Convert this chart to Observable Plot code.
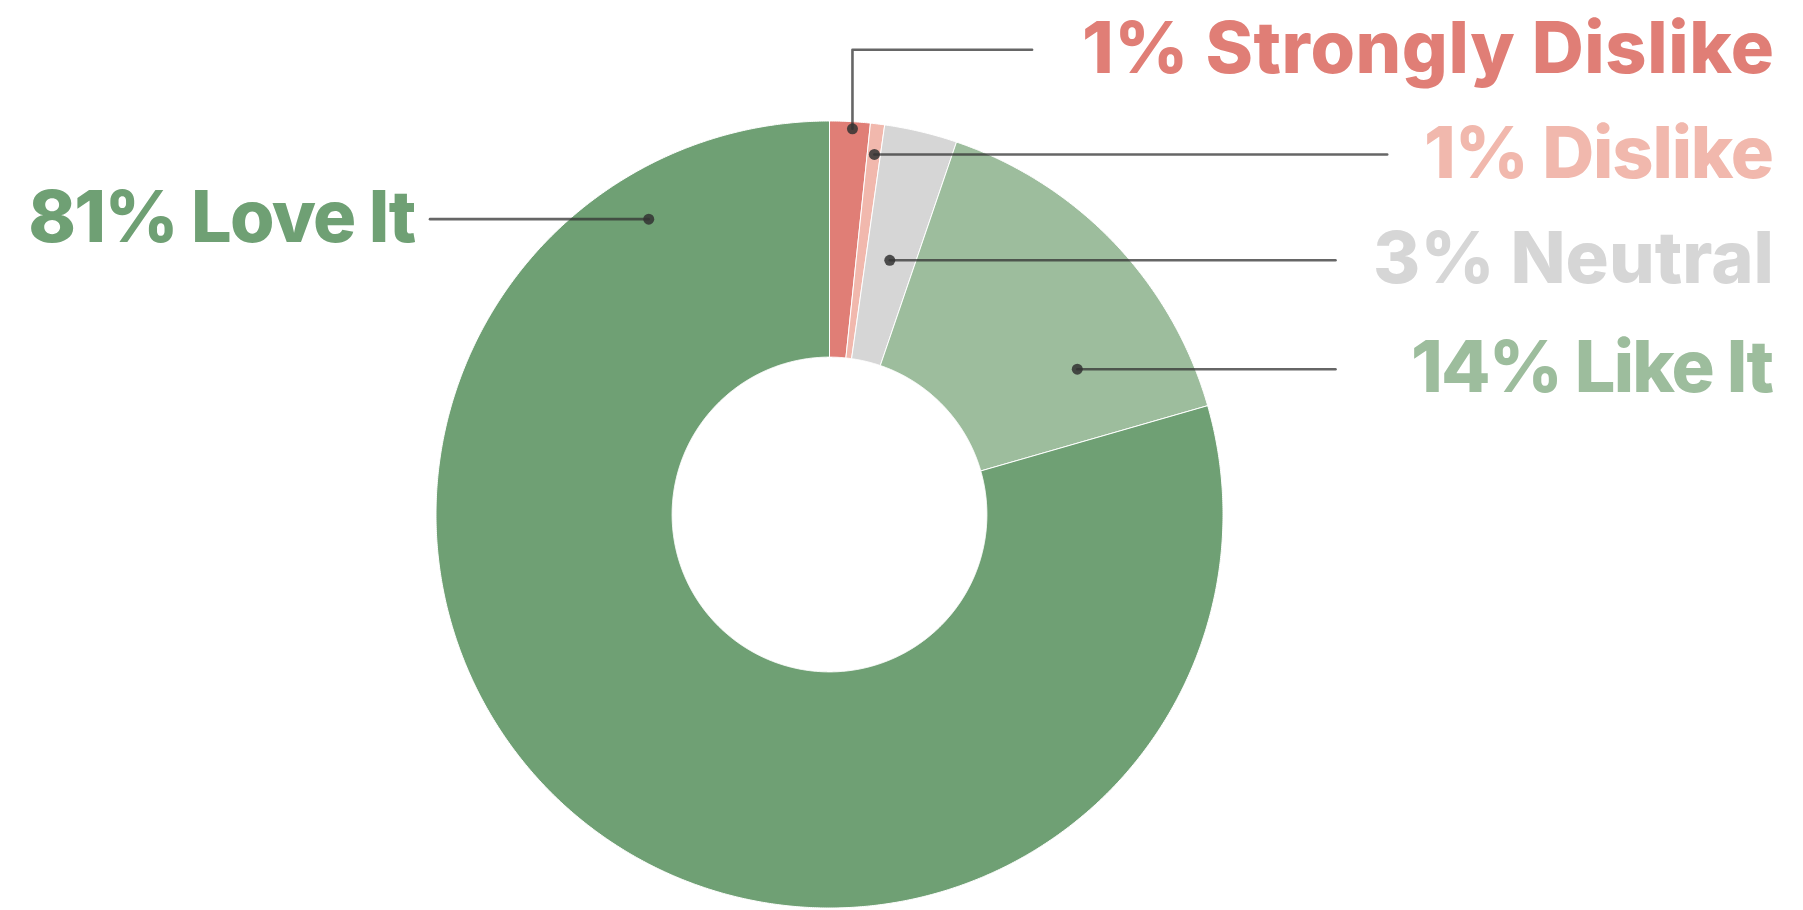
<!DOCTYPE html>
<html><head><meta charset="utf-8">
<script src="https://cdn.jsdelivr.net/npm/d3@7"></script>
<script src="https://cdn.jsdelivr.net/npm/@observablehq/plot@0.6"></script>
<style>html,body{margin:0;padding:0;background:#fff;overflow:hidden;}</style>
</head><body><div id="chart"></div>
<script>
// ---- data ----
const categories = ["Strongly Dislike", "Dislike", "Neutral", "Like It", "Love It"];
const shares = [1.66, 0.58, 2.99, 15.31, 79.46];          // slice sizes
const labelPercents = ["1%", "1%", "3%", "14%", "81%"];   // printed labels

// ---- styles / layout ----
const palette = ["#e07e76", "#f1b8ad", "#d6d6d6", "#9dbd9d", "#6fa074"];
const W = 1803, H = 910, CX = 829, CY = 514, R = 393.5, INNER = 0.4;
// annotation placement: angle fraction inside slice, radial fraction in ring,
// label row (px), leader end (px), label width (px)
const placement = {
  "Strongly Dislike": {t: 0.57, rf: 0.97, side: "right", lineEnd: 1031.6, row: 49.3, w: 692},
  "Dislike":          {t: 0.54, rf: 0.87, side: "right", lineEnd: 1386.7, w: 350},
  "Neutral":          {t: 0.49, rf: 0.44, side: "right", lineEnd: 1335, w: 401},
  "Like It":          {t: 0.74, rf: 0.55, side: "right", lineEnd: 1335, w: 363},
  "Love It":          {t: 0.89, rf: 0.80, side: "left",  lineEnd: 429.5, w: 388}
};
const rightTextX = 1773.5, leftTextX = 27.7;
const ux = px => (px - CX) / R;
const uy = py => (CY - py) / R;

const rows = categories.map((name, i) => ({name, share: shares[i], pct: labelPercents[i]}));
const arcs = d3.pie().sort(null).value(d => d.share)(rows);

// slice outlines
const slicePts = [];
for (const a of arcs) {
  const n = Math.max(2, Math.ceil((a.endAngle - a.startAngle) / 0.005));
  const pts = [];
  for (let k = 0; k <= n; k++) {
    const ang = a.startAngle + (a.endAngle - a.startAngle) * k / n;
    pts.push([Math.sin(ang), Math.cos(ang)]);
  }
  for (let k = n; k >= 0; k--) {
    const ang = a.startAngle + (a.endAngle - a.startAngle) * k / n;
    pts.push([INNER * Math.sin(ang), INNER * Math.cos(ang)]);
  }
  pts.push(pts[0]);
  for (const [x, y] of pts) slicePts.push({name: a.data.name, x, y});
}

// anchors and leader lines
const anchors = arcs.map(a => {
  const p = placement[a.data.name];
  const ang = a.startAngle + (a.endAngle - a.startAngle) * p.t;
  const r = INNER + (1 - INNER) * p.rf;
  return {name: a.data.name, pct: a.data.pct, x: r * Math.sin(ang), y: r * Math.cos(ang), p};
});
const leaderPts = [];
const labels = [];
for (const a of anchors) {
  leaderPts.push({name: a.name, x: a.x, y: a.y});
  let ly = a.y;
  if (a.p.row !== undefined) { ly = uy(a.p.row); leaderPts.push({name: a.name, x: a.x, y: ly}); }
  leaderPts.push({name: a.name, x: ux(a.p.lineEnd), y: ly});
  labels.push({name: a.name, text: `${a.pct} ${a.name}`, y: ly, w: a.p.w,
    x: a.p.side === "right" ? ux(rightTextX) : ux(leftTextX),
    anchor: a.p.side === "right" ? "end" : "start"});
}

const font = "Inter, 'Open Sans', sans-serif";
const textOpts = {x: "x", y: "y", text: "text", fill: "name", fontSize: 72, fontWeight: 800,
  fontFamily: font, dy: 0, lineAnchor: "middle"};

const chart = Plot.plot({
  width: W, height: H,
  margin: 0, marginTop: 0, marginRight: 0, marginBottom: 0, marginLeft: 0,
  x: {domain: [ux(0), ux(W)], range: [0, W], axis: null},
  y: {domain: [uy(H), uy(0)], range: [H, 0], axis: null},
  color: {domain: categories, range: palette},
  style: {background: "white"},
  marks: [
    Plot.line(slicePts, {x: "x", y: "y", z: "name", fill: "name", stroke: "white", strokeWidth: 1, curve: "linear"}),
    Plot.line(leaderPts, {x: "x", y: "y", z: "name", stroke: "#333", strokeOpacity: 0.75, strokeWidth: 2.6}),
    Plot.dot(anchors, {x: "x", y: "y", r: 5.5, fill: "#333", fillOpacity: 0.85}),
    Plot.text(labels.filter(d => d.anchor === "end"), {...textOpts, textAnchor: "end", className: "lbl-r"}),
    Plot.text(labels.filter(d => d.anchor === "start"), {...textOpts, textAnchor: "start", className: "lbl-l"})
  ]
});
document.getElementById("chart").appendChild(chart);

// fit label widths to the reference by letter spacing only
const byText = new Map(labels.map(d => [d.text, d.w]));
chart.querySelectorAll("text").forEach(t => {
  const w = byText.get(t.textContent);
  if (w) { t.setAttribute("textLength", w); t.setAttribute("lengthAdjust", "spacing"); }
});
</script>
</body></html>
